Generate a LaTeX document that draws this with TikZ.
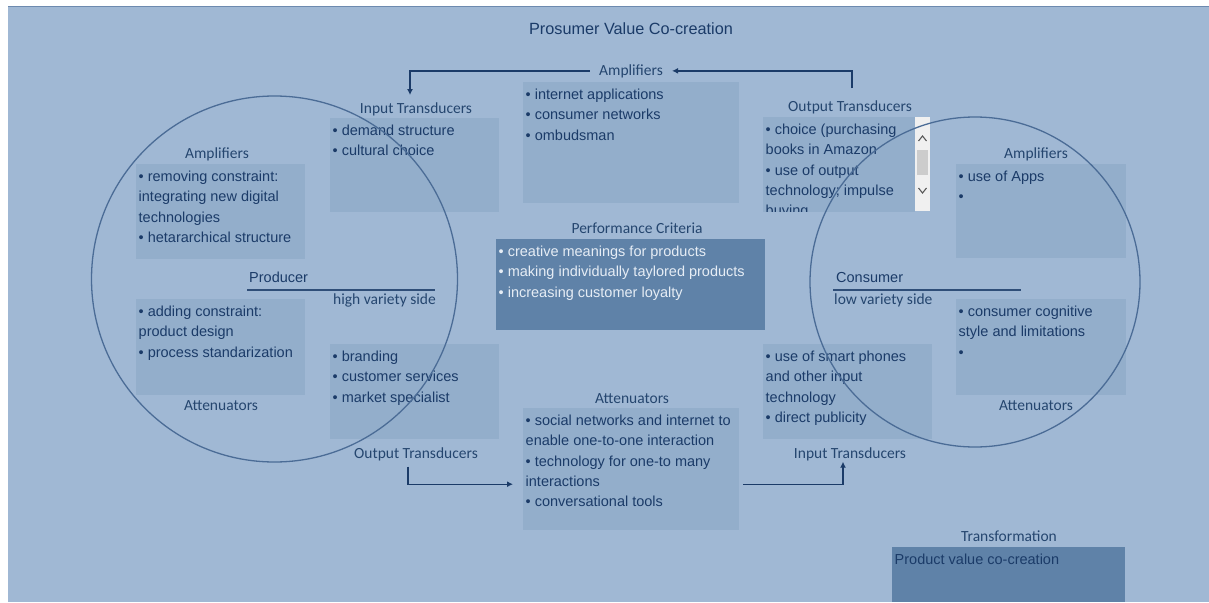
\documentclass[tikz,border=0pt]{standalone}
\usepackage{fontspec}
\setmainfont{Liberation Sans}
\newfontfamily\headfont{Carlito}
\usetikzlibrary{arrows.meta}
\definecolor{pagebg}{HTML}{A0B8D4}
\definecolor{panelbg}{HTML}{93AECB}
\definecolor{critbg}{HTML}{5F82A8}
\definecolor{inkblue}{HTML}{1B3B68}
\definecolor{headblue}{HTML}{25466F}
\definecolor{ringblue}{HTML}{4B6C96}
\definecolor{lightink}{HTML}{E6EDF5}
\newcommand{\pbox}[3]{\parbox[t][\dimexpr#2pt-6pt\relax][t]{\dimexpr#1pt-5pt\relax}{\raggedright\strut#3}}
\tikzset{
 panel/.style={fill=panelbg, anchor=north west, inner xsep=2.5pt, inner ysep=3pt, text=inkblue, font=\fontsize{14.5}{20.3}\selectfont},
 head/.style={anchor=base, inner sep=0pt, text=headblue, font=\headfont\fontsize{15.5}{18}\selectfont},
 lbl/.style={anchor=base west, inner sep=0pt, text=inkblue, font=\fontsize{14.5}{18}\selectfont},
 flow/.style={draw=inkblue, line width=1.3pt, -{Latex[length=6pt,width=6pt]}},
 ring/.style={circle, draw=ringblue, line width=1.3pt, inner sep=0pt},
 rule/.style={draw=inkblue!85!pagebg, line width=1.2pt}
}
\begin{document}
\begin{tikzpicture}[x=1pt,y=-1pt]
\useasboundingbox[fill=white] (0,0) rectangle (1209,602);
\fill[pagebg] (8,6) rectangle (1209,602);
\draw[ringblue!60!pagebg, line width=1pt] (8,6.5) -- (1209,6.5);
\node[anchor=base, inner sep=0pt, text=inkblue, font=\fontsize{16.25}{20}\selectfont] (title) at (631,35) {Prosumer Value Co-creation};
% boxes
\node[panel] (ampT) at (523,82) {\pbox{216}{121}{• internet applications\\• consumer networks\\• ombudsman}};
\node[panel] (inL) at (330,118) {\pbox{169}{94}{• demand structure\\• cultural choice}};
\node[panel] (ampP) at (136,164) {\pbox{169}{95}{• removing constraint:\\integrating new digital\\technologies\\• hetararchical structure}};
\node[panel] (attP) at (136,299) {\pbox{169}{96}{• adding constraint:\\product design\\• process standarization}};
\node[panel] (outL) at (330,344) {\pbox{169}{95}{• branding\\• customer services\\• market specialist}};
\node[panel, fill=critbg, text=lightink] (crit) at (496,239) {\pbox{269}{91}{• creative meanings for products\\• making individually taylored products\\• increasing customer loyalty}};
\node[panel] (attC) at (523,408) {\pbox{216}{122}{• social networks and internet to\\enable one-to-one interaction\\• technology for one-to many\\interactions\\• conversational tools}};
\begin{scope}
\clip (763,117) rectangle (915,211);
\node[panel] (outR) at (763,117) {\pbox{152}{95}{• choice (purchasing\\books in Amazon\\• use of output\\technology; impulse\\buying}};
\end{scope}
\fill[black!6] (915,117) rectangle (930,211);
\fill[black!20] (917,150) rectangle (928,175);
\draw[black!65, line width=1.1pt] (918.5,141) -- (922.5,136) -- (926.5,141);
\draw[black!65, line width=1.1pt] (918.5,188) -- (922.5,193) -- (926.5,188);
\node[panel] (ampC) at (956,164) {\pbox{170}{94}{• use of Apps\\•}};
\node[panel] (attK) at (956,299) {\pbox{170}{96}{• consumer cognitive\\style and limitations\\•}};
\node[panel] (inR) at (763,344) {\pbox{169}{95}{• use of smart phones\\and other input\\technology\\• direct publicity}};
\node[panel, fill=critbg] (trans) at (892,547) {\pbox{233}{55}{Product value co-creation}};
% headings
\node[head] (hAmpT) at (631,75) {Amplifiers};
\node[head] (hInL) at (416,113) {Input Transducers};
\node[head] (hAmpP) at (217,158) {Amplifiers};
\node[head] (hAttP) at (221,410) {Attenuators};
\node[head] (hOutL) at (416,458) {Output Transducers};
\node[head] (hOutR) at (850,111) {Output Transducers};
\node[head] (hAmpC) at (1036,158) {Amplifiers};
\node[head] (hAttK) at (1036,410) {Attenuators};
\node[head] (hInR) at (850,458) {Input Transducers};
\node[head] (hCrit) at (637,233) {Performance Criteria};
\node[head] (hAttC) at (632,403) {Attenuators};
\node[head] (hTrans) at (1009,541) {Transformation};
% producer and consumer
\node[lbl] (prod) at (249,282) {Producer};
\draw[rule] (prod.base west) ++(-2,8) -- ++(188,0);
\node[head, anchor=base east] (hvs) at (436,304) {high variety side};
\node[lbl] (cons) at (836,282) {Consumer};
\draw[rule] (cons.base west) ++(-3,8) -- ++(188,0);
\node[head, anchor=base west] (lvs) at (834,304) {low variety side};
\node[ring, minimum size=366pt] (prodRing) at (274.5,279) {};
\node[ring, minimum size=330pt] (consRing) at (975,282) {};
% loops
\draw[flow] ([xshift=2pt,yshift=12pt]hOutR.north) |- ([xshift=9pt]hAmpT.east);
\draw[flow] ([xshift=-9pt]hAmpT.west) -| ([xshift=-6pt,yshift=7pt]hInL.north);
\draw[flow] ([xshift=-8pt,yshift=-6pt]hOutL.south) |- ([xshift=-10pt,yshift=-15pt]attC.west);
\draw[flow] ([xshift=4pt,yshift=-15pt]attC.east) -| ([xshift=-7pt,yshift=-1pt]hInR.south);
\end{tikzpicture}
\end{document}
